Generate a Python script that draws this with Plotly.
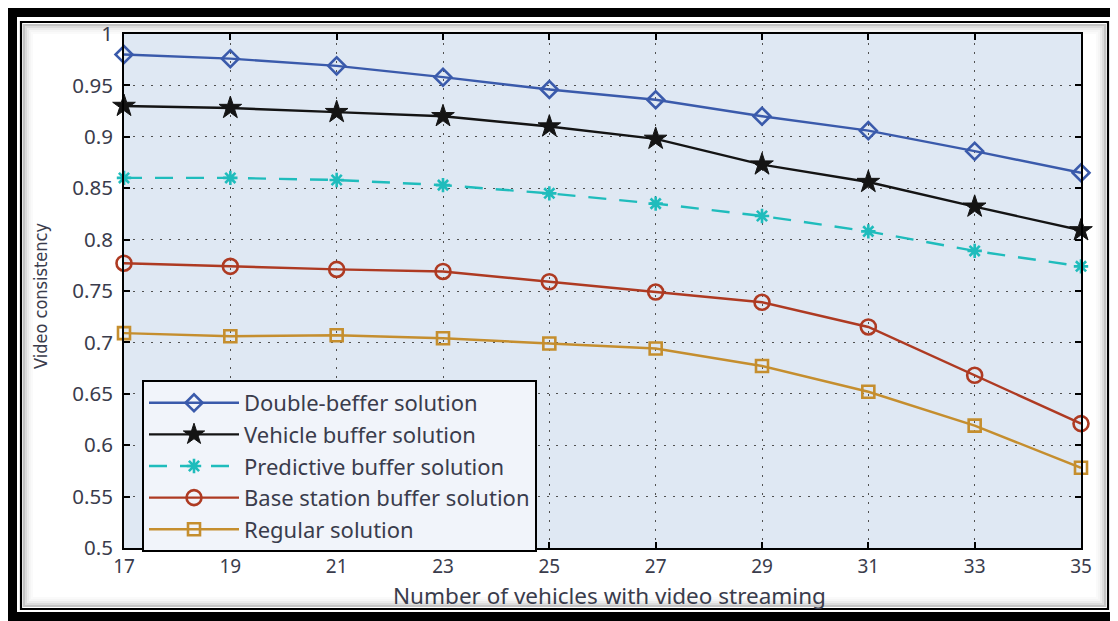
import plotly.graph_objects as go

# ---- data ----
vehicles = [17, 19, 21, 23, 25, 27, 29, 31, 33, 35]
double_buffer = [0.980, 0.976, 0.969, 0.958, 0.946, 0.936, 0.920, 0.906, 0.886, 0.865]
vehicle_buffer = [0.930, 0.928, 0.924, 0.920, 0.910, 0.898, 0.873, 0.856, 0.832, 0.809]
predictive_buffer = [0.860, 0.860, 0.858, 0.853, 0.845, 0.835, 0.823, 0.808, 0.789, 0.774]
base_station_buffer = [0.777, 0.774, 0.771, 0.769, 0.759, 0.749, 0.739, 0.715, 0.668, 0.621]
regular = [0.709, 0.706, 0.707, 0.704, 0.699, 0.694, 0.677, 0.652, 0.619, 0.578]

series_names = ["Double-beffer solution", "Vehicle buffer solution", "Predictive buffer solution",
                "Base station buffer solution", "Regular solution"]
x_ticks = [17, 19, 21, 23, 25, 27, 29, 31, 33, 35]
x_title = "Number of vehicles with video streaming"
y_title = "Video consistency"

# page body has an 8px margin; work in screen coordinates and shift
OFF = 8
W, H = 1118 - OFF, 621 - OFF
L, R, T, B = 124, 1081, 34, 548  # plot area in screen pixels


def px(x):
    return (x - L) / (R - L)


def py(y):
    return (B - y) / (B - T)


TEXT = "#3a3c4c"
FONT = "Noto Sans, Open Sans, sans-serif"

fig = go.Figure()

styles = [
    (double_buffer, "#3a5aab", "diamond-open", 13, "solid"),
    (vehicle_buffer, "#141414", "star", 17, "solid"),
    (predictive_buffer, "#1fbcbc", "asterisk-open", 12, "18px,13px"),
    (base_station_buffer, "#ae3a22", "circle-open", 15, "solid"),
    (regular, "#c58e2e", "square-open", 12, "solid"),
]

for name, (vals, color, sym, size, dash) in zip(series_names, styles):
    fig.add_trace(go.Scatter(
        x=vehicles, y=vals, name=name, mode="lines+markers",
        line=dict(color=color, width=2.4, dash=dash),
        marker=dict(symbol=sym, size=size, color=color,
                    line=dict(color=color, width=2.6 if sym != "star" else 1)),
        cliponaxis=False,
    ))

shapes = []
# thick outer black frame (filled bars), screen coords
for (x0, y0, x1, y1) in [(5, 7, 1118, 17), (5, 612, 1118, 621), (5, 7, 17, 621), (1112, 7, 1118, 621)]:
    shapes.append(dict(type="rect", xref="paper", yref="paper",
                       x0=px(x0), x1=px(x1), y0=py(y0), y1=py(y1),
                       fillcolor="black", line=dict(width=0), layer="above"))
# inner shadow
for inset, alpha in [(3, 0.30), (5, 0.18), (7, 0.10), (9, 0.05), (11, 0.025)]:
    shapes.append(dict(type="rect", xref="paper", yref="paper",
                       x0=px(21 + inset), x1=px(1108 - inset), y0=py(22 + inset), y1=py(609 - inset),
                       line=dict(color=f"rgba(60,60,60,{alpha})", width=2), layer="below"))
# thin inner black line
shapes.append(dict(type="rect", xref="paper", yref="paper",
                   x0=px(21), x1=px(1108), y0=py(22), y1=py(609),
                   line=dict(color="black", width=2.2), layer="above"))

axis_common = dict(
    showline=True, linecolor="black", linewidth=2, mirror="ticks",
    ticks="inside", ticklen=6, tickcolor="black", tickwidth=1.5,
    showgrid=True, gridcolor="#505050", griddash="2px,7px", gridwidth=1.2,
    zeroline=False,
)

annotations = [
    dict(text=x_title, xref="paper", yref="paper", x=px(609), y=py(595),
         xanchor="center", yanchor="middle", showarrow=False,
         font=dict(family=FONT, size=22.5, color=TEXT)),
    dict(text=y_title, xref="paper", yref="paper", x=px(40), y=py(296),
         xanchor="center", yanchor="middle", showarrow=False, textangle=-90,
         font=dict(family="Liberation Sans Narrow, DejaVu Sans Condensed, sans-serif",
                   size=18, color=TEXT)),
]

fig.update_layout(
    width=W, height=H,
    margin=dict(l=L - OFF, r=W - (R - OFF), t=T - OFF, b=H - (B - OFF)),
    paper_bgcolor="white",
    plot_bgcolor="#dfe8f3",
    xaxis=dict(range=[17, 35], tickvals=x_ticks, ticklabelstandoff=0,
               tickfont=dict(family=FONT, size=19, color=TEXT), **axis_common),
    yaxis=dict(range=[0.5, 1], dtick=0.05, tick0=0.5, ticklabelstandoff=5,
               tickfont=dict(family=FONT, size=20.5, color=TEXT), **axis_common),
    legend=dict(x=px(142), y=py(380), xanchor="left", yanchor="top",
                bgcolor="#f1f4fa", bordercolor="black", borderwidth=2,
                font=dict(family=FONT, size=22, color=TEXT),
                itemwidth=90, tracegroupgap=0),
    showlegend=True,
    shapes=shapes,
    annotations=annotations,
)

fig.write_html("out.html")
